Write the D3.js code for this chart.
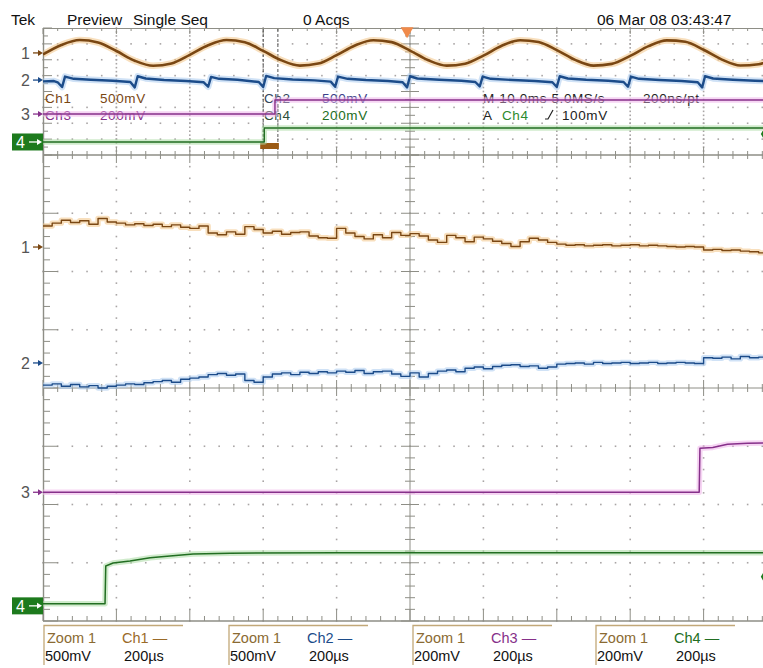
<!DOCTYPE html>
<html>
<head>
<meta charset="utf-8">
<style>
body { margin: 0; background: #fff; }
svg { display: block; }
text { font-family: "Liberation Sans", Arial, sans-serif; }
</style>
</head>
<body>
<svg id="scope" width="763" height="668"></svg>
<script src="https://cdn.jsdelivr.net/npm/d3@7"></script>
<script>
// scope settings
const channelNames = ["Ch1", "Ch2", "Ch3", "Ch4"];
const mvPerDiv = [500, 500, 200, 200];
const traceColors = ["#7a4713", "#1c4c8a", "#86308a", "#226e22"];
const glowColors = ["#f3c486", "#a9cbee", "#efb3ea", "#a9dba2"];
const previewOffsetDiv = [2.43, 0.72, -1.42, -3.18];
const zoomOffsetDiv = [2.42, 0.43, -1.79, -3.74];
const previewMs = [0, 100];
const zoomWindowMs = [30.0, 32.0];
const zoomUs = [0, 2000];
const trigPosMs = 49.6;
const trigLevelMv = 100;

// preview traces (ms, mV)
const previewCh1 = [-50, 250, 405, 330, 60, -245, -405, -330, -60, 240, 405, 335, 65, -235,
  -400, -335, -70, 235, 400, 340, 75, -230, -400, -340, -85, 225, 400, 345, 90, -220,
  -400, -345, -95, 215, 395, 350, 100, -210, -395, -355, -105];
const previewCh2 = [[0,-40],[1.5,-30],[2.0,-70],[2.6,-220],[3.0,110],[4.2,40],[6.5,10],[9.5,-20],
  [11.9,-60],[12.5,-230],[12.9,120],[14,50],[16.5,0],[19.5,-30],[21.9,-70],[22.5,-210],[22.9,100],
  [24,40],[26.5,10],[29.4,-60],[30.0,-220],[30.4,130],[31.5,60],[34,20],[37,-10],[39.2,-50],
  [39.8,-210],[40.2,110],[41.5,40],[44,0],[47,-30],[49.0,-70],[49.6,-230],[50.0,120],[51,50],
  [54,10],[57,-20],[58.9,-60],[59.5,-200],[59.9,110],[61,40],[64,0],[67,-30],[69.4,-70],
  [70.0,-220],[70.4,120],[71.5,50],[74,10],[77,-20],[79.1,-60],[79.7,-210],[80.1,110],[81.2,40],
  [84,0],[87,-30],[89.2,-70],[89.8,-230],[90.2,120],[91.3,50],[94,10],[97,-20],[100,-40]];
const previewCh3 = [[0,0],[31.6,0],[31.6,176],[100,176]];
const previewCh4 = [[0,0],[30.15,0],[30.15,176],[100,176]];

// zoom traces: Ch1/Ch2 sampled every 25 us (mV)
const zoomCh1 = [180, 205, 230, 210, 225, 195, 245, 215, 205, 190,
  200, 185, 195, 175, 190, 170, 160, 180, 120, 105,
  130, 110, 175, 150, 120, 135, 110, 125, 130, 95,
  80, 75, 160, 120, 90, 70, 105, 80, 125, 100,
  115, 95, 60, 40, 100, 80, 45, 85, 70, 50,
  30, 5, 45, 75, 60, 40, 25, 15, 20, 10,
  15, 20, 10, 15, 20, 10, 15, 10, 5, 0,
  5, 0, -25, -20, -30, -25, -35, -40, -50, -45];
const zoomCh2 = [-190, -180, -200, -185, -205, -195, -215, -200, -190, -180,
  -185, -170, -160, -150, -165, -140, -130, -120, -100, -90,
  -105, -95, -150, -165, -120, -95, -85, -100, -80, -90,
  -75, -85, -70, -80, -65, -90, -75, -70, -95, -115,
  -85, -120, -90, -70, -60, -75, -45, -35, -50, -30,
  -20, -15, -30, -25, -45, -35, -10, -5, 0, -10,
  5, -5, 0, 5, -5, 0, 5, -5, 0, 5,
  0, -5, 45, 40, 50, 35, 55, 45, 50, 55];
const zoomCh3 = [[0,0],[1788,0],[1790,151],[1825,154],[1865,165],[1920,168],[1970,169]];
const zoomCh4 = [[0,7],[169,7],[171,137],[191,147],[237,154],[292,165],[346,171],[409,178],[510,181],[800,182],[1970,182]];

const sampleUs = d3.range(0, 2000, 25);
const previewStepMs = d3.range(0, 100.1, 2.5);

const svg = d3.select("#scope");

const pX = d3.scaleLinear().domain(previewMs).range([43, 777]);
const pY = d3.scaleLinear().domain([-4, 4]).range([155, 28]);
const zX = d3.scaleLinear().domain(zoomUs).range([43, 777]);
const zY = d3.scaleLinear().domain([-4, 4]).range([621, 155]);
const divX = d3.scaleLinear().domain([-5, 5]).range([43, 777]);

const gridColor = "#8e8e86";
const dotColor = "#a9a5a5";

function graticule(g, y, dotStepY, tickStepY, leftMajor, leftMinor) {
    const top = y.range()[1], bot = y.range()[0];
    // dotted division lines
    d3.range(-4, 5).filter(i => i !== 0).forEach(i => {
        g.selectAll(null).data(d3.range(-4, 4.001, dotStepY)).enter().append("rect")
            .attr("x", divX(i) - 0.8).attr("y", d => y(d) - 0.8)
            .attr("width", 1.6).attr("height", 1.6).attr("fill", dotColor);
    });
    d3.range(-3, 4).filter(j => j !== 0).forEach(j => {
        g.selectAll(null).data(d3.range(-5, 5.001, 0.2)).enter().append("rect")
            .attr("x", d => divX(d) - 0.8).attr("y", y(j) - 0.8)
            .attr("width", 1.6).attr("height", 1.6).attr("fill", dotColor);
    });
    // left border
    g.append("line").attr("x1", 43.5).attr("x2", 43.5).attr("y1", top).attr("y2", bot)
        .attr("stroke", gridColor).attr("stroke-width", 1.4);
    g.selectAll(null).data(d3.range(-4, 4.001, tickStepY)).enter().append("line")
        .attr("x1", 43).attr("y1", d => y(d)).attr("y2", d => y(d))
        .attr("x2", d => 43 + (Math.abs(d - Math.round(d)) < 0.01 ? leftMajor : leftMinor))
        .attr("stroke", gridColor);
    // vertical centre line
    g.append("line").attr("x1", divX(0)).attr("x2", divX(0)).attr("y1", top).attr("y2", bot)
        .attr("stroke", gridColor);
    g.selectAll(null).data(d3.range(-4, 4.001, tickStepY)).enter().append("line")
        .attr("y1", d => y(d)).attr("y2", d => y(d))
        .attr("x1", d => divX(0) - (Math.abs(d - Math.round(d)) < 0.01 ? 9 : 5))
        .attr("x2", d => divX(0) + (Math.abs(d - Math.round(d)) < 0.01 ? 9 : 5))
        .attr("stroke", gridColor);
}

// ---------- preview panel ----------
const prev = svg.append("g");
graticule(prev, pY, 0.25, 0.5, 9, 5);
prev.append("line").attr("x1", 43).attr("x2", 763).attr("y1", 28.5).attr("y2", 28.5).attr("stroke", gridColor);
prev.selectAll(null).data(d3.range(-5, 5.001, 0.2)).enter().append("line")
    .attr("x1", d => divX(d)).attr("x2", d => divX(d)).attr("y1", 28)
    .attr("y2", d => 28 + (Math.abs(d - Math.round(d)) < 0.01 ? 6 : 3)).attr("stroke", gridColor);

// ---------- main (zoom) panel ----------
const main = svg.append("g");
graticule(main, zY, 0.2, 0.2, 15, 7);
main.append("line").attr("x1", 43).attr("x2", 763).attr("y1", zY(0)).attr("y2", zY(0)).attr("stroke", gridColor);
[zY(4), zY(-4)].forEach(yy => {
    main.append("line").attr("x1", 43).attr("x2", 763).attr("y1", yy).attr("y2", yy)
        .attr("stroke", gridColor).attr("stroke-width", 1.4);
});
main.selectAll(null).data(d3.range(-5, 5.001, 0.2)).enter().append("g").each(function(d) {
    const major = Math.abs(d - Math.round(d)) < 0.01;
    const g = d3.select(this);
    const xx = divX(d);
    g.append("line").attr("x1", xx).attr("x2", xx).attr("y1", zY(0) - (major ? 8 : 4)).attr("y2", zY(0) + (major ? 8 : 4));
    g.append("line").attr("x1", xx).attr("x2", xx).attr("y1", zY(-4)).attr("y2", zY(-4) - (major ? 12 : 5));
    g.append("line").attr("x1", xx).attr("x2", xx).attr("y1", zY(4) - (major ? 8 : 4)).attr("y2", zY(4) + (major ? 8 : 4));
}).attr("stroke", gridColor);

// ---------- preview labels ----------
const lab = svg.append("g").attr("font-size", "13.5px").attr("letter-spacing", "0.6px");
function txt(g, x, y, s, col) {
    return g.append("text").attr("x", x).attr("y", y).attr("fill", col || "#111").text(s);
}
txt(lab, 45, 103, "Ch1", traceColors[0]);
txt(lab, 100, 103, "500mV", traceColors[0]);
txt(lab, 45, 120, "Ch3", traceColors[2]);
txt(lab, 100, 120, "200mV", traceColors[2]);
txt(lab, 264, 103, "Ch2", "#33475e");
txt(lab, 322, 103, "500mV", "#3b3f8a");
txt(lab, 264, 120, "Ch4", "#2f4f3a");
txt(lab, 322, 120, "200mV", traceColors[3]);
txt(lab, 483, 103, "M 10.0ms 5.0MS/s", "#222");
txt(lab, 643, 103, "200ns/pt", "#222");
txt(lab, 483, 120, "A", "#222");
txt(lab, 502, 120, "Ch4", "#2d8a2d");
lab.append("path").attr("d", "M545,119 L548,119 L553,110").attr("fill", "none").attr("stroke", "#222").attr("stroke-width", 1.2);
txt(lab, 562, 120, "100mV", "#222");

// ---------- traces ----------
svg.append("clipPath").attr("id", "clipPrev").append("rect").attr("x", 43).attr("y", 28).attr("width", 734).attr("height", 127);
svg.append("clipPath").attr("id", "clipMain").append("rect").attr("x", 43).attr("y", 155).attr("width", 734).attr("height", 466);

function trace(g, pts, c, x, y, offsets, curve, w) {
    const line = d3.line()
        .x(d => x(d[0]))
        .y(d => y(d[1] / mvPerDiv[c] + offsets[c]))
        .curve(curve);
    g.append("path").attr("d", line(pts)).attr("fill", "none")
        .attr("stroke", glowColors[c]).attr("stroke-width", w + 4).attr("stroke-opacity", 0.55)
        .attr("stroke-linejoin", "round");
    g.append("path").attr("d", line(pts)).attr("fill", "none")
        .attr("stroke", traceColors[c]).attr("stroke-width", w).attr("stroke-linejoin", "round");
}

// zoom window indicator in preview
const zw = svg.append("g");
[zoomWindowMs[0], zoomWindowMs[1]].forEach(t => {
    zw.append("line").attr("x1", pX(t)).attr("x2", pX(t)).attr("y1", 29).attr("y2", 150)
        .attr("stroke", "#555").attr("stroke-dasharray", "3,2");
});
zw.append("rect").attr("x", pX(zoomWindowMs[0]) - 3).attr("y", 143)
    .attr("width", pX(zoomWindowMs[1]) - pX(zoomWindowMs[0]) + 4).attr("height", 6)
    .attr("fill", "#9a5a14");

const pTr = svg.append("g").attr("clip-path", "url(#clipPrev)");
trace(pTr, previewStepMs.map((t, i) => [t, previewCh1[i]]), 0, pX, pY, previewOffsetDiv, d3.curveMonotoneX, 2.6);
trace(pTr, previewCh2, 1, pX, pY, previewOffsetDiv, d3.curveLinear, 2.4);
trace(pTr, previewCh3, 2, pX, pY, previewOffsetDiv, d3.curveLinear, 1.4);
trace(pTr, previewCh4, 3, pX, pY, previewOffsetDiv, d3.curveLinear, 1.4);

const mTr = svg.append("g").attr("clip-path", "url(#clipMain)");
trace(mTr, sampleUs.map((t, i) => [t, zoomCh1[i]]), 0, zX, zY, zoomOffsetDiv, d3.curveStepAfter, 1.4);
trace(mTr, sampleUs.map((t, i) => [t, zoomCh2[i]]), 1, zX, zY, zoomOffsetDiv, d3.curveStepAfter, 1.4);
trace(mTr, zoomCh3, 2, zX, zY, zoomOffsetDiv, d3.curveLinear, 1.5);
trace(mTr, zoomCh4, 3, zX, zY, zoomOffsetDiv, d3.curveLinear, 1.5);

// trigger position and level
svg.append("path").attr("d", d3.symbol(d3.symbolTriangle, 70)())
    .attr("transform", `translate(${pX(trigPosMs)},${31}) rotate(180)`).attr("fill", "#f08a4a");
[[pY, previewOffsetDiv], [zY, zoomOffsetDiv]].forEach(([y, off]) => {
    svg.append("path").attr("d", d3.symbol(d3.symbolDiamond, 60)())
        .attr("transform", `translate(765,${y(trigLevelMv / mvPerDiv[3] + off[3])})`)
        .attr("fill", "#1d7a1d");
});

// ---------- channel ground markers ----------
function marker(yy, c) {
    const col = traceColors[c];
    if (c === 3) {
        svg.append("rect").attr("x", 12).attr("y", yy - 8.5).attr("width", 31).attr("height", 17).attr("fill", "#1d7a1d");
        svg.append("text").attr("x", 16).attr("y", yy + 6).attr("font-size", "16px").attr("fill", "#fff").text("4");
        svg.append("line").attr("x1", 29).attr("x2", 38).attr("y1", yy).attr("y2", yy).attr("stroke", "#fff").attr("stroke-width", 1.3);
        svg.append("path").attr("d", `M37,${yy - 3} L42,${yy} L37,${yy + 3} Z`).attr("fill", "#fff");
    } else {
        svg.append("text").attr("x", 21).attr("y", yy + 6).attr("font-size", "16px").attr("fill", "#555").text(String(c + 1));
        svg.append("line").attr("x1", 33).attr("x2", 39).attr("y1", yy).attr("y2", yy).attr("stroke", col).attr("stroke-width", 1.3);
        svg.append("path").attr("d", `M38,${yy - 3} L43,${yy} L38,${yy + 3} Z`).attr("fill", col);
    }
}
channelNames.forEach((n, c) => {
    marker(pY(previewOffsetDiv[c]), c);
    marker(zY(zoomOffsetDiv[c]), c);
});

// ---------- header ----------
const hdr = svg.append("g").attr("font-size", "15.5px").attr("fill", "#222");
txt(hdr, 11, 25, "Tek");
txt(hdr, 67, 25, "Preview");
txt(hdr, 133, 25, "Single Seq");
txt(hdr, 303, 25, "0 Acqs");
txt(hdr, 597, 25, "06 Mar 08 03:43:47");

// ---------- zoom readouts ----------
const readX = [43, 228, 412, 595];
const readVolts = ["500mV", "500mV", "200mV", "200mV"];
const readTime = "200\u00b5s";
const rd = svg.append("g").attr("font-size", "14.5px");
readX.forEach((x0, c) => {
    rd.append("path").attr("d", `M${x0 + 1},665 V625.5 H${x0 + 140}`).attr("fill", "none")
        .attr("stroke", "#c2a878").attr("stroke-width", 1.3);
    txt(rd, x0 + 4, 643, "Zoom 1", "#8a6a32");
    txt(rd, x0 + 79, 643, channelNames[c] + " \u2014", c === 0 ? "#9a6a28" : traceColors[c]);
    txt(rd, x0 + 2, 661, readVolts[c], "#111");
    txt(rd, x0 + 81, 661, readTime, "#111");
});
</script>
</body>
</html>
